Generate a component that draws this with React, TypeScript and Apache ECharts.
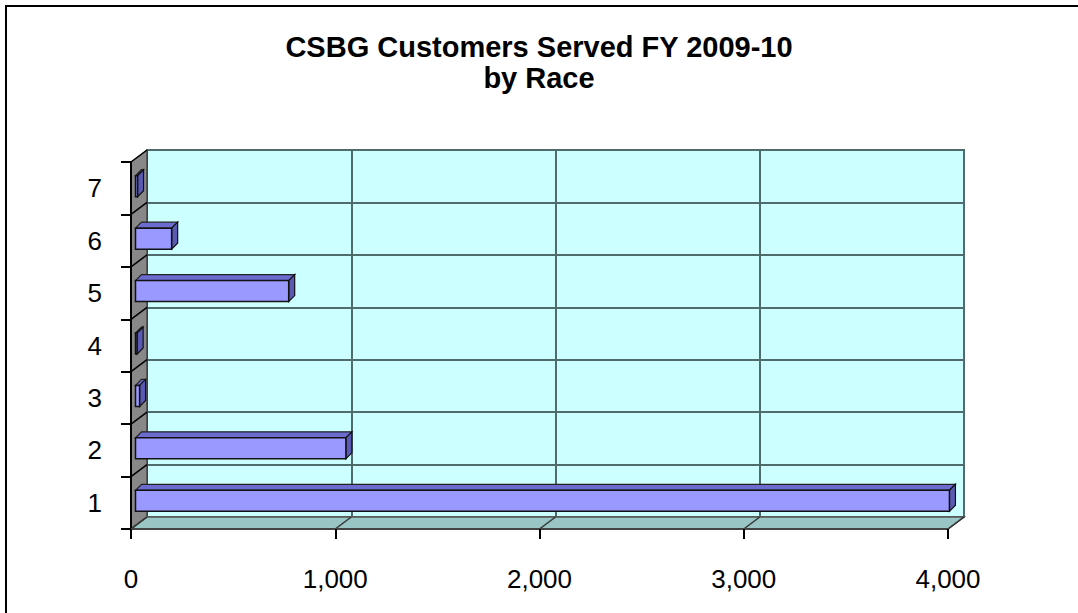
import React, { useEffect, useRef } from "react";
import * as echarts from "echarts";

const titleLine1 = "CSBG Customers Served FY 2009-10";
const titleLine2 = "by Race";
const categories = ["1", "2", "3", "4", "5", "6", "7"];
const values = [3985, 1030, 20, 8, 750, 177, 10];
const xTicks = [0, 1000, 2000, 3000, 4000];
const xTickLabels = ["0", "1,000", "2,000", "3,000", "4,000"];

const DX = 16;
const DY = 12;
const FONT = "'Liberation Sans', Arial, sans-serif";

export default function App() {
  const ref = useRef<HTMLDivElement>(null);
  useEffect(() => {
    if (!ref.current) return;
    const chart = echarts.init(ref.current, undefined, { renderer: "svg" });
    const N = categories.length;

    const wallsRender = (params: any, api: any) => {
      const cs = params.coordSys;
      const B = cs.y + cs.height;
      const children: any[] = [];
      children.push({
        type: "polygon",
        shape: { points: [[cs.x, cs.y], [cs.x + DX, cs.y - DY], [cs.x + DX, B - DY], [cs.x, B]] },
        style: { fill: "#888888", stroke: "#222", lineWidth: 1 },
      });
      for (let k = 0; k <= N; k++) {
        const y = cs.y + (k * cs.height) / N;
        children.push({
          type: "line",
          shape: { x1: cs.x, y1: y, x2: cs.x + DX, y2: y - DY },
          style: { stroke: "#000", lineWidth: 1.5 },
        });
      }
      children.push({
        type: "polygon",
        shape: { points: [[cs.x, B], [cs.x + cs.width, B], [cs.x + cs.width + DX, B - DY], [cs.x + DX, B - DY]] },
        style: { fill: "#99c5c5", stroke: "#555", lineWidth: 1.5 },
      });
      xTicks.forEach((t) => {
        const x = api.coord([t, 0])[0];
        children.push({
          type: "line",
          shape: { x1: x, y1: B, x2: x + DX, y2: B - DY },
          style: { stroke: "#333", lineWidth: 1.5 },
        });
      });
      return { type: "group", children };
    };

    const barRender = (params: any, api: any) => {
      const v = api.value(0);
      const c = api.value(1);
      const p0 = api.coord([0, c]);
      const p1 = api.coord([v, c]);
      const h = 21, ox = 4.5, oy = -2, bd = 6;
      const x0 = p0[0] + ox;
      const x1 = Math.max(p1[0] + ox, x0 + 1.5);
      const yc = p0[1] + oy;
      const top = yc - h / 2;
      const bot = yc + h / 2;
      return {
        type: "group",
        children: [
          {
            type: "polygon",
            shape: { points: [[x0, top], [x1, top], [x1 + bd, top - bd], [x0 + bd, top - bd]] },
            style: { fill: "#6b6bd0", stroke: "#222", lineWidth: 1.2 },
          },
          {
            type: "polygon",
            shape: { points: [[x1, top], [x1 + bd, top - bd], [x1 + bd, bot - bd], [x1, bot]] },
            style: { fill: "#5a5ab4", stroke: "#111", lineWidth: 1.2 },
          },
          {
            type: "rect",
            shape: { x: x0, y: top, width: x1 - x0, height: h },
            style: { fill: "#9999ff", stroke: "#111", lineWidth: 1.5 },
          },
        ],
      };
    };

    const gridLine = { color: "#4f6b6b", width: 2 };

    chart.setOption({
      animation: false,
      title: {
        text: titleLine1 + "\n" + titleLine2,
        left: "center",
        top: 26,
        textStyle: { fontSize: 29, lineHeight: 31, fontWeight: "bold", fontFamily: FONT, color: "#000" },
      },
      graphic: [
        {
          type: "rect",
          shape: { x: 6, y: 6, width: 1200, height: 800 },
          style: { fill: "none", stroke: "#000", lineWidth: 2 },
          z: 10,
        },
      ],
      grid: [
        { left: 131, top: 162, width: 817, height: 367, show: false, z: 0 },
        {
          left: 131 + DX,
          top: 162 - DY,
          width: 817,
          height: 367,
          show: true,
          backgroundColor: "#ccffff",
          borderColor: "#4f6b6b",
          borderWidth: 2,
          z: 0,
        },
      ],
      xAxis: [
        {
          type: "value",
          gridIndex: 0,
          min: 0,
          max: 4000,
          interval: 1000,
          z: 6,
          axisLine: { show: true, lineStyle: { color: "#444", width: 2 } },
          axisTick: { show: true, length: 10, lineStyle: { color: "#000", width: 2 } },
          axisLabel: {
            fontSize: 26,
            color: "#000",
            fontFamily: FONT,
            margin: 37,
            formatter: (v: number) => {
              const i = xTicks.indexOf(v);
              return i >= 0 ? xTickLabels[i] : "";
            },
          },
          splitLine: { show: false },
        },
        {
          type: "value",
          gridIndex: 1,
          min: 0,
          max: 4000,
          interval: 1000,
          z: 1,
          axisLine: { show: false },
          axisTick: { show: false },
          axisLabel: { show: false },
          splitLine: { show: true, lineStyle: gridLine },
        },
      ],
      yAxis: [
        {
          type: "category",
          gridIndex: 0,
          data: categories,
          z: 6,
          axisLine: { show: true, lineStyle: { color: "#000", width: 2 } },
          axisTick: { show: true, length: 10, interval: 0, lineStyle: { color: "#000", width: 2 } },
          axisLabel: {
            fontSize: 26,
            color: "#000",
            fontFamily: FONT,
            margin: 29,
            interval: 0,
            padding: [7, 0, 0, 0],
          },
          splitLine: { show: false },
        },
        {
          type: "category",
          gridIndex: 1,
          data: categories,
          z: 1,
          axisLine: { show: false },
          axisTick: { show: false },
          axisLabel: { show: false },
          splitLine: { show: true, interval: 0, lineStyle: gridLine },
        },
      ],
      series: [
        {
          type: "custom",
          xAxisIndex: 0,
          yAxisIndex: 0,
          z: 3,
          silent: true,
          clip: false,
          renderItem: wallsRender,
          data: [[0, 0]],
        },
        {
          type: "custom",
          xAxisIndex: 0,
          yAxisIndex: 0,
          z: 5,
          clip: false,
          renderItem: barRender,
          data: values.map((v, i) => [v, i]),
        },
      ],
    });
    return () => chart.dispose();
  }, []);
  return (
    <div
      ref={ref}
      style={{ position: "fixed", left: 0, top: 0, width: 1078, height: 613, background: "#fff" }}
    />
  );
}
